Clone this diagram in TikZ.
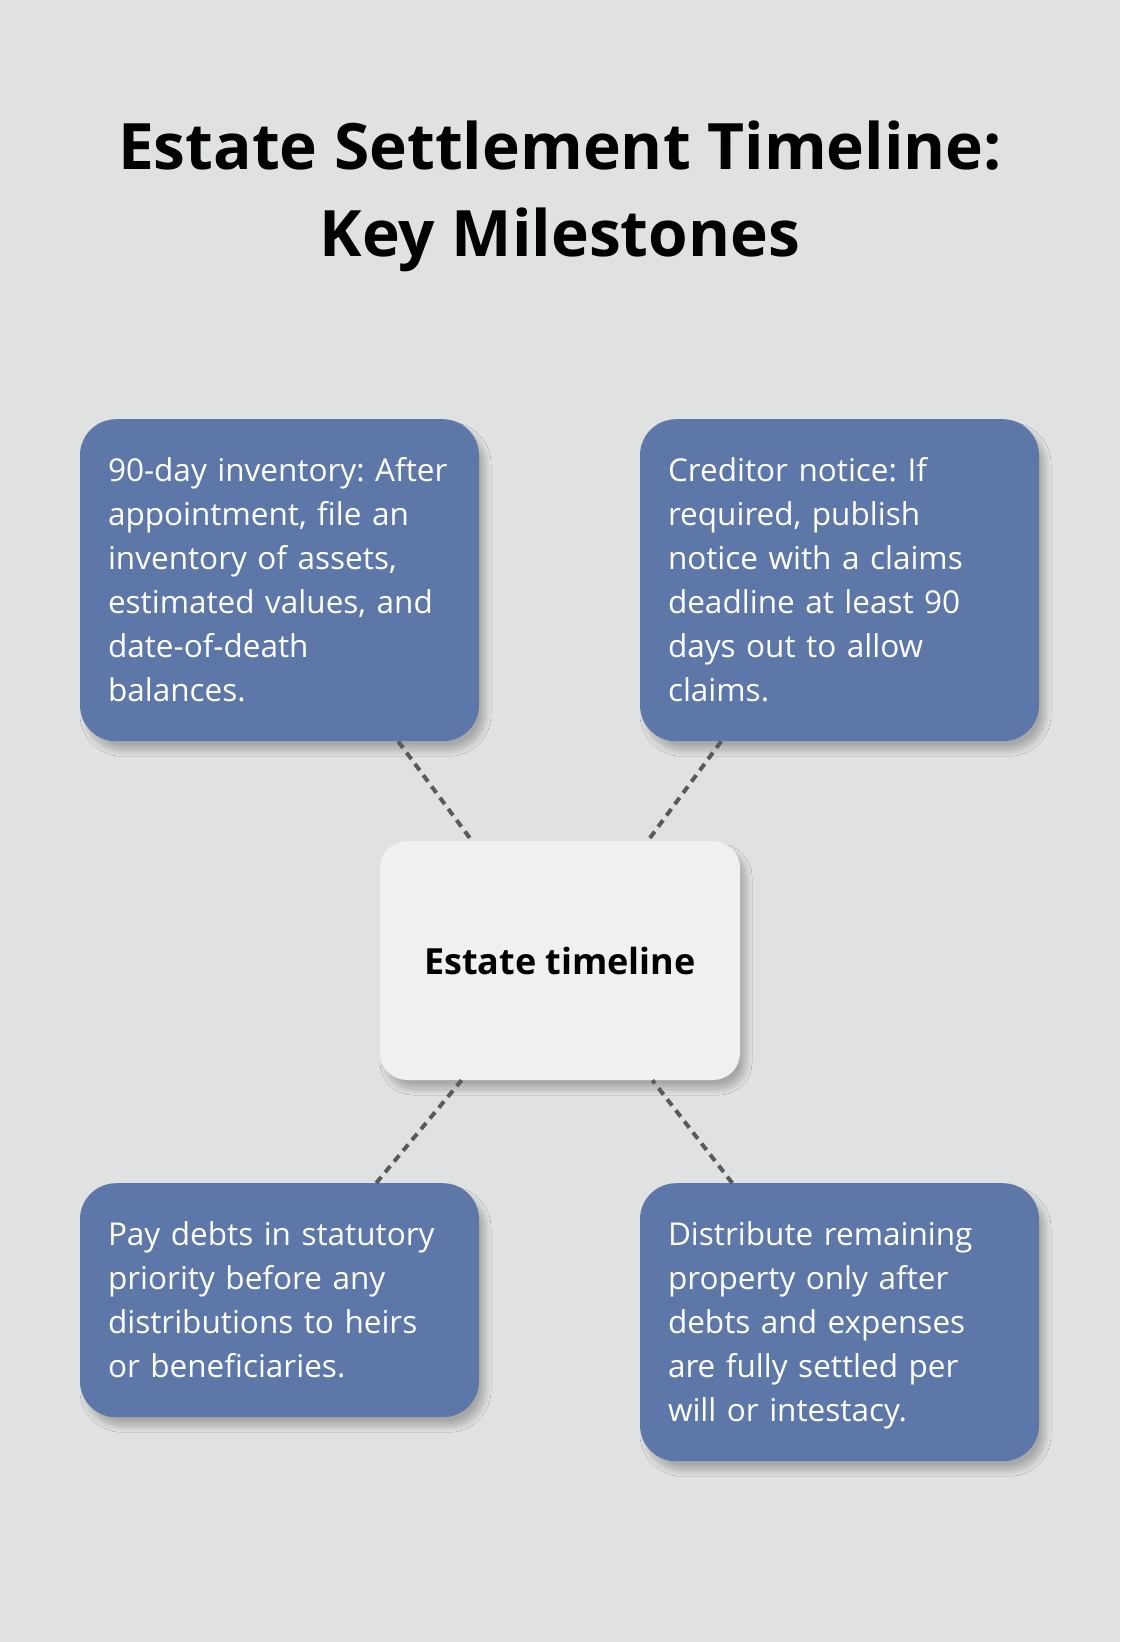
\documentclass[tikz,border=0pt]{standalone}
\usepackage{fontspec}
\setmainfont{Open Sans}
\usetikzlibrary{shadows.blur}
\frenchspacing

\definecolor{bgcol}{HTML}{E0E2E1}
\definecolor{boxblue}{HTML}{5D77A9}
\definecolor{hubfill}{HTML}{EFF0F2}
\definecolor{linkgray}{HTML}{5A5A5A}
\newcommand\linestrut{\rule[-10.4pt]{0pt}{44pt}}

\tikzset{
  softshadow/.style={blur shadow={shadow xshift=6pt,shadow yshift=-9pt,shadow blur radius=6pt,
    shadow blur steps=20,shadow opacity=25}},
  milestone/.style={rectangle,rounded corners=36pt,fill=boxblue,text=white,anchor=north,
    text width=343pt,inner xsep=28pt,inner ysep=29pt,align=left,softshadow,
    font=\fontsize{31.5}{44}\selectfont,
    execute at begin node=\linestrut,execute at end node=\linestrut},
  hub/.style={rectangle,rounded corners=27pt,fill=hubfill,minimum width=360pt,minimum height=239pt,
    softshadow,font=\fontsize{36}{44}\selectfont\bfseries},
  titletext/.style={anchor=base,font=\fontsize{64}{87}\selectfont\bfseries},
  link/.style={draw=linkgray,line width=4pt,dash pattern=on 8pt off 6pt}
}

\begin{document}
\begin{tikzpicture}[x=1pt,y=-1pt]

\fill[bgcol] (0,0) rectangle (1120,1642);
\useasboundingbox (0,0) rectangle (1120,1642);

\node[titletext] (title1) at (560,169) {Estate Settlement Timeline:};
\node[titletext] (title2) at (560,256) {Key Milestones};

\node[milestone] (inventory) at (279.5,419) {90-day inventory: After\\appointment, file an\\inventory of assets,\\estimated values, and\\date-of-death\\balances.};
\node[milestone] (creditor) at (839.5,419) {Creditor notice: If\\required, publish\\notice with a claims\\deadline at least 90\\days out to allow\\claims.};
\node[milestone] (debts) at (279.5,1183) {Pay debts in statutory\\priority before any\\distributions to heirs\\or beneficiaries.};
\node[milestone] (distribute) at (839.5,1183) {Distribute remaining\\property only after\\debts and expenses\\are fully settled per\\will or intestacy.};

\node[hub] (estate) at (560,960.5) {Estate timeline};

\draw[link] (inventory) -- (estate);
\draw[link] (creditor) -- (estate);
\draw[link] (debts) -- (estate);
\draw[link] (distribute) -- (estate);

\end{tikzpicture}
\end{document}
